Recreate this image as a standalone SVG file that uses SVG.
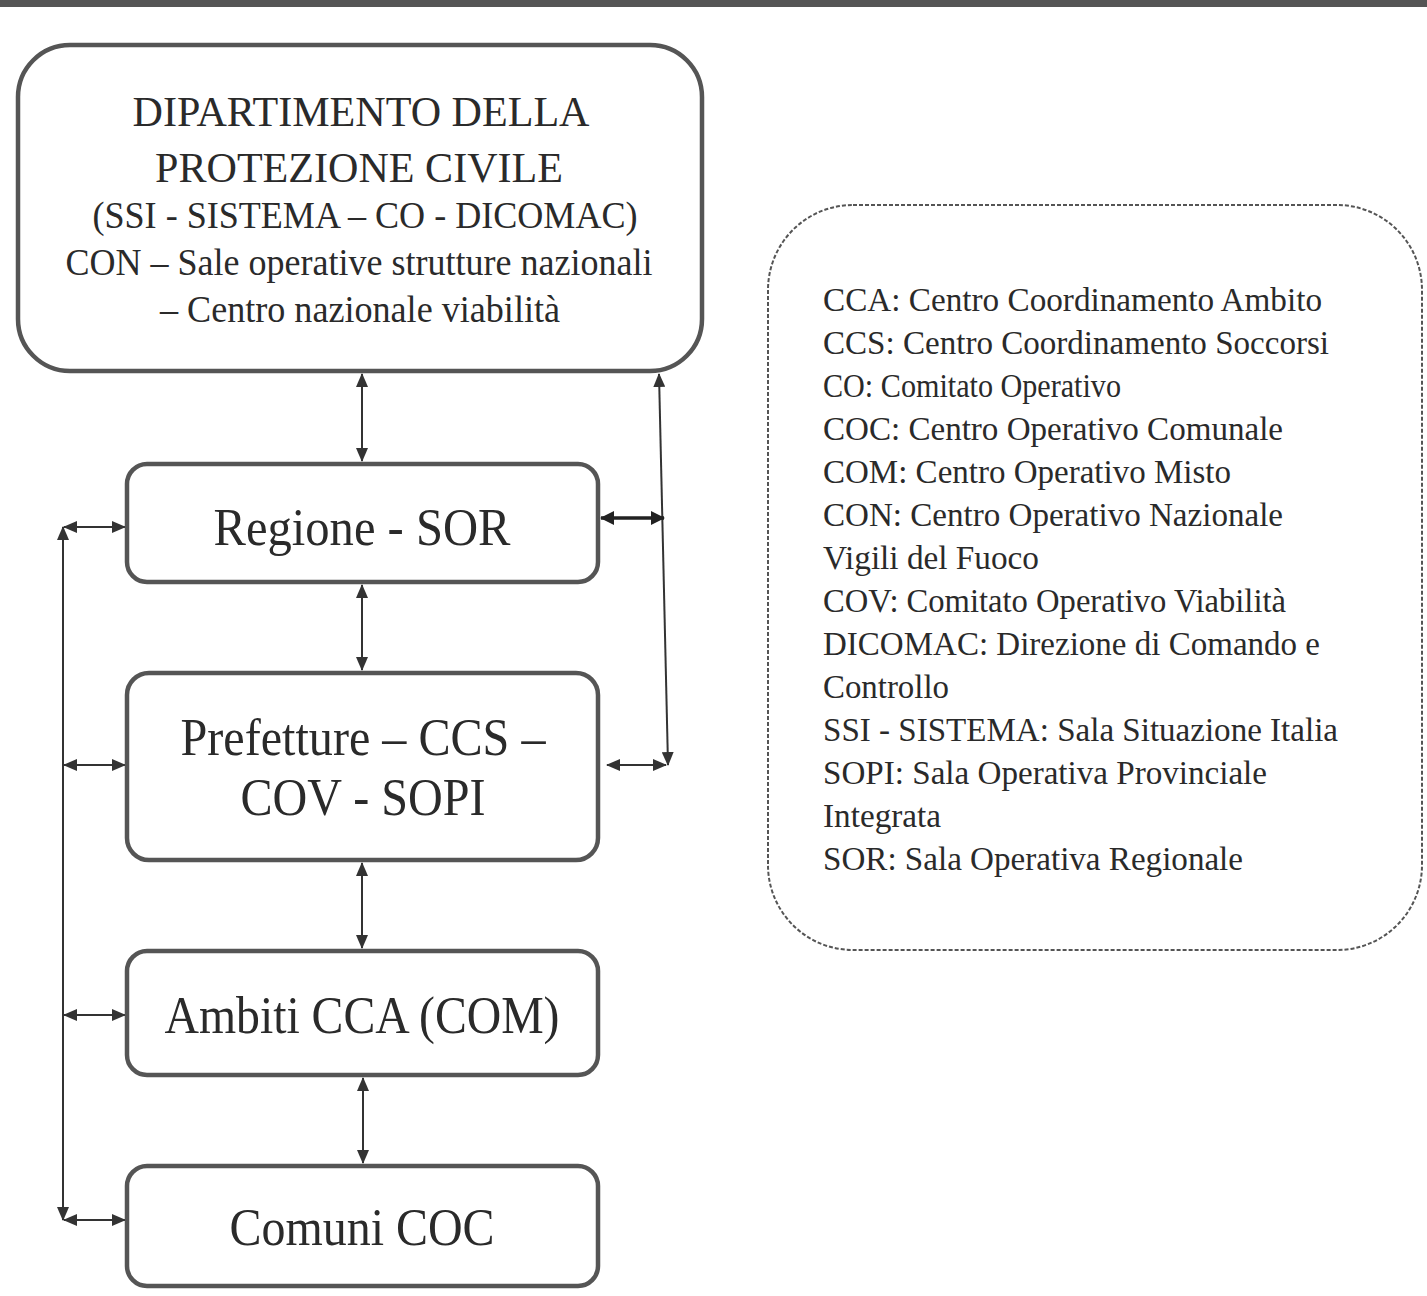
<svg xmlns="http://www.w3.org/2000/svg" width="1427" height="1296" viewBox="0 0 1427 1296">
<defs>
<style>
.box{fill:#fff;stroke:#555;stroke-width:4.5}
.t{font-family:"Liberation Serif","Times New Roman",serif;fill:#2a2a2a;text-anchor:middle}
.lg{font-family:"Liberation Serif","Times New Roman",serif;fill:#2a2a2a;font-size:34px}
.c{stroke:#333;stroke-width:2;fill:none;marker-start:url(#ah);marker-end:url(#ah)}
.cb{stroke:#222;stroke-width:3.5;fill:none;marker-start:url(#ahb);marker-end:url(#ahb)}
</style>
<marker id="ah" viewBox="0 0 14 12" refX="13" refY="6" markerWidth="14" markerHeight="12" markerUnits="userSpaceOnUse" orient="auto-start-reverse">
<path d="M0,0 L14,6 L0,12 Z" fill="#333"/>
</marker>
<marker id="ahb" viewBox="0 0 14 14" refX="13" refY="7" markerWidth="14" markerHeight="14" markerUnits="userSpaceOnUse" orient="auto-start-reverse">
<path d="M0,0 L14,7 L0,14 Z" fill="#222"/>
</marker>
</defs>
<rect x="0" y="0" width="1427" height="7" fill="#555"/>

<g id="connectors">
<line class="c" x1="362" y1="374" x2="362" y2="461"/>
<line class="c" x1="362" y1="585" x2="362" y2="670"/>
<line class="c" x1="362" y1="863" x2="362" y2="948"/>
<line class="c" x1="363" y1="1078" x2="363" y2="1163"/>
<line class="c" x1="63" y1="527" x2="63" y2="1220"/>
<line class="c" x1="64" y1="527" x2="125" y2="527"/>
<line class="c" x1="64" y1="765" x2="125" y2="765"/>
<line class="c" x1="64" y1="1015" x2="125" y2="1015"/>
<line class="c" x1="64" y1="1220" x2="125" y2="1220"/>
<line class="c" x1="659" y1="374" x2="668" y2="765"/>
<line class="cb" x1="601" y1="518" x2="664" y2="518"/>
<line class="c" x1="607" y1="765" x2="666" y2="765"/>
</g>

<g id="dipartimento">
<rect class="box" x="18" y="45" width="684" height="326" rx="52"/>
<text class="t" x="361" y="126" font-size="43" textLength="457" lengthAdjust="spacingAndGlyphs">DIPARTIMENTO DELLA</text>
<text class="t" x="359" y="182" font-size="43" textLength="408" lengthAdjust="spacingAndGlyphs">PROTEZIONE CIVILE</text>
<text class="t" x="365" y="228" font-size="38" textLength="545" lengthAdjust="spacingAndGlyphs">(SSI - SISTEMA – CO - DICOMAC)</text>
<text class="t" x="359" y="275" font-size="38" textLength="587" lengthAdjust="spacingAndGlyphs">CON – Sale operative strutture nazionali</text>
<text class="t" x="360" y="322" font-size="38" textLength="400" lengthAdjust="spacingAndGlyphs">– Centro nazionale viabilità</text>
</g>

<g id="regione">
<rect class="box" x="127" y="464" width="471" height="118" rx="20"/>
<text class="t" x="362" y="545" font-size="52" textLength="297" lengthAdjust="spacingAndGlyphs">Regione - SOR</text>
</g>

<g id="prefetture">
<rect class="box" x="127" y="673" width="471" height="187" rx="22"/>
<text class="t" x="363" y="755" font-size="52" textLength="365" lengthAdjust="spacingAndGlyphs">Prefetture – CCS –</text>
<text class="t" x="363" y="815" font-size="52" textLength="245" lengthAdjust="spacingAndGlyphs">COV - SOPI</text>
</g>

<g id="ambiti">
<rect class="box" x="127" y="951" width="471" height="124" rx="20"/>
<text class="t" x="362" y="1033" font-size="52" textLength="395" lengthAdjust="spacingAndGlyphs">Ambiti CCA (COM)</text>
</g>

<g id="comuni">
<rect class="box" x="127" y="1166" width="471" height="120" rx="20"/>
<text class="t" x="362" y="1245" font-size="52" textLength="265" lengthAdjust="spacingAndGlyphs">Comuni COC</text>
</g>

<g id="legenda">
<rect x="768" y="205" width="654" height="745" rx="85" fill="#fff" stroke="#555" stroke-width="2" stroke-dasharray="4 2"/>
<text class="lg" x="823" y="311" textLength="499" lengthAdjust="spacingAndGlyphs">CCA: Centro Coordinamento Ambito</text>
<text class="lg" x="823" y="354" textLength="506" lengthAdjust="spacingAndGlyphs">CCS: Centro Coordinamento Soccorsi</text>
<text class="lg" x="823" y="397" textLength="298" lengthAdjust="spacingAndGlyphs">CO: Comitato Operativo</text>
<text class="lg" x="823" y="440" textLength="460" lengthAdjust="spacingAndGlyphs">COC: Centro Operativo Comunale</text>
<text class="lg" x="823" y="483" textLength="408" lengthAdjust="spacingAndGlyphs">COM: Centro Operativo Misto</text>
<text class="lg" x="823" y="526" textLength="460" lengthAdjust="spacingAndGlyphs">CON: Centro Operativo Nazionale</text>
<text class="lg" x="823" y="569" textLength="216" lengthAdjust="spacingAndGlyphs">Vigili del Fuoco</text>
<text class="lg" x="823" y="612" textLength="463" lengthAdjust="spacingAndGlyphs">COV: Comitato Operativo Viabilità</text>
<text class="lg" x="823" y="655" textLength="497" lengthAdjust="spacingAndGlyphs">DICOMAC: Direzione di Comando e</text>
<text class="lg" x="823" y="698" textLength="126" lengthAdjust="spacingAndGlyphs">Controllo</text>
<text class="lg" x="823" y="741" textLength="515" lengthAdjust="spacingAndGlyphs">SSI - SISTEMA: Sala Situazione Italia</text>
<text class="lg" x="823" y="784" textLength="444" lengthAdjust="spacingAndGlyphs">SOPI: Sala Operativa Provinciale</text>
<text class="lg" x="823" y="827" textLength="118" lengthAdjust="spacingAndGlyphs">Integrata</text>
<text class="lg" x="823" y="870" textLength="420" lengthAdjust="spacingAndGlyphs">SOR: Sala Operativa Regionale</text>
</g>
</svg>
